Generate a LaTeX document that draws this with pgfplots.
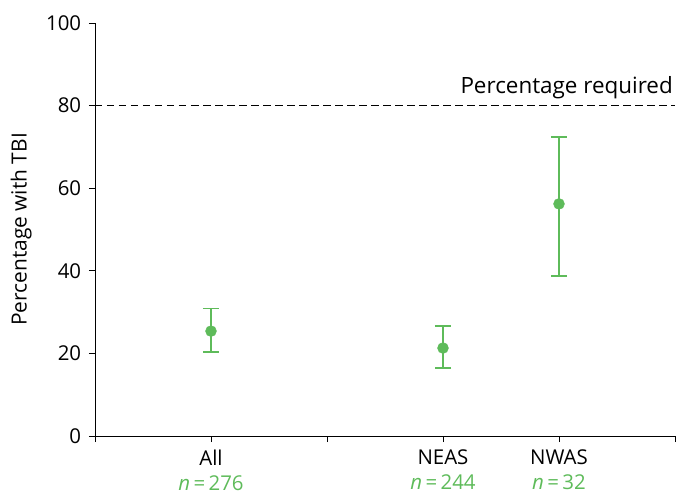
\documentclass[border=0pt]{standalone}
\usepackage{pgfplots}
\pgfplotsset{compat=1.18}
\usepackage{fontspec}
\setmainfont{Open Sans}
\definecolor{ptgreen}{RGB}{94,187,90}
\begin{document}
\fontsize{20}{24}\selectfont
\begin{tikzpicture}
\begin{axis}[
  at={(0,0)}, anchor=origin,
  scale only axis,
  width=580bp, height=413bp,
  xmin=0, xmax=5, ymin=0, ymax=100,
  axis lines=left,
  axis line style={-, line width=0.9pt},
  tick align=outside,
  major tick length=6bp,
  tick style={black, line width=0.9pt},
  xtick={0,1,2,3,4,5},
  xticklabels={,{All\\\textcolor{ptgreen}{\textit{n}\,=\,276}},,{NEAS\\\textcolor{ptgreen}{\textit{n}\,=\,244}},{NWAS\\\textcolor{ptgreen}{\textit{n}\,=\,32}},},
  xticklabel style={align=center, font=\fontsize{20.5}{25}\selectfont, yshift=-1bp},
  ytick={0,20,40,60,80,100},
  yticklabel style={font=\fontsize{20.5}{24}\selectfont, xshift=-1bp},
  /pgf/number format/assume math mode=true,
  ylabel={Percentage with TBI},
  ylabel style={font=\fontsize{21}{24}\selectfont, yshift=1bp},
  clip=false,
]
\addplot[black, line width=0.9pt, dash pattern=on 7.5bp off 4.5bp] coordinates {(0,80) (5,80)};
\node[anchor=south east, font=\fontsize{22.5}{26}\selectfont, inner sep=2bp] at (axis cs:5,81.2) {Percentage required};
\addplot[only marks, mark=*, mark size=5.5bp, color=ptgreen,
  error bars/.cd, y dir=both, y explicit,
  error bar style={line width=1.4pt, ptgreen},
  error mark options={rotate=90, mark size=8bp, line width=1.4pt, ptgreen}]
  coordinates {
    (1,25.4) += (0,5.4) -= (0,5.1)
    (3,21.3) += (0,5.3) -= (0,4.8)
    (4,56.2) += (0,16.2) -= (0,17.5)
  };
\end{axis}
\pgfresetboundingbox
\useasboundingbox (-95bp,-63bp) rectangle (586bp,436bp);
\end{tikzpicture}
\end{document}
